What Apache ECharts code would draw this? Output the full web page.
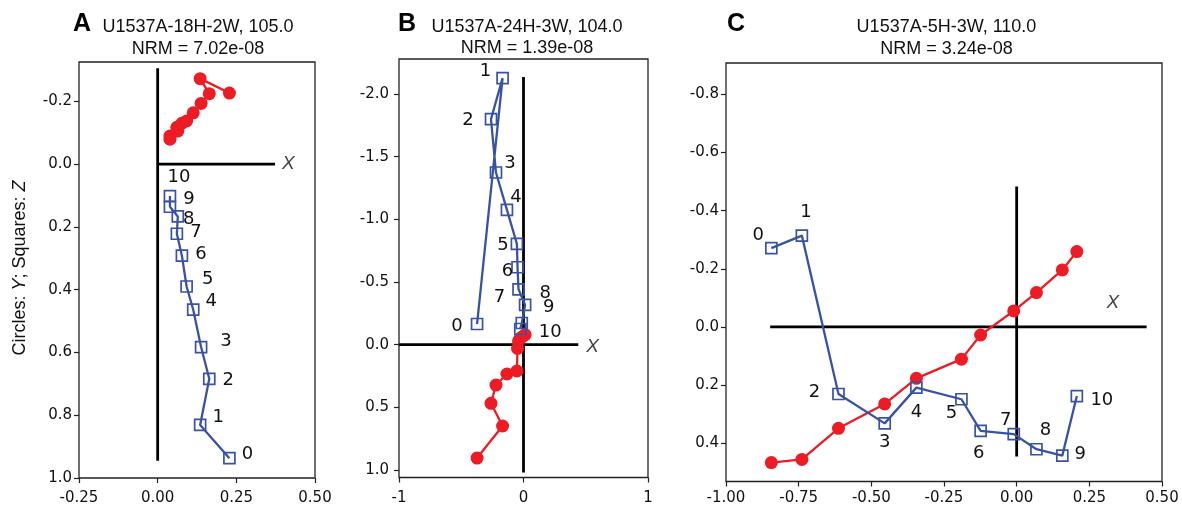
<!DOCTYPE html>
<html>
<head>
<meta charset="utf-8">
<script src="https://cdn.jsdelivr.net/npm/echarts@6/dist/echarts.min.js"></script>
<style>
html,body{margin:0;padding:0;background:#fff;}
#c{width:1182px;height:508px;}
</style>
</head>
<body>
<div id="c"></div>
<script>
// ---------- DATA ----------
const steps = [0,1,2,3,4,5,6,7,8,9,10];

// Panel A  U1537A-18H-2W, 105.0
const xA = [0.228, 0.135, 0.164, 0.138, 0.113, 0.092, 0.077, 0.061, 0.064, 0.039, 0.039];
const yA = [-0.226, -0.272, -0.224, -0.193, -0.163, -0.137, -0.130, -0.117, -0.105, -0.089, -0.079];
const zA = [0.937, 0.831, 0.684, 0.583, 0.464, 0.390, 0.292, 0.222, 0.167, 0.136, 0.102];
const crossHA = [[0, 0], [0.373, 0]];
const crossVA = [[0, -0.305], [0, 0.945]];

// Panel B  U1537A-24H-3W, 104.0
const xB = [-0.373, -0.168, -0.261, -0.221, -0.133, -0.053, -0.048, -0.040, 0.013, -0.014, -0.026];
const yB = [0.905, 0.649, 0.468, 0.322, 0.234, 0.210, 0.030, -0.030, -0.080, -0.060, -0.050];
const zB = [-0.165, -2.128, -1.800, -1.374, -1.076, -0.804, -0.618, -0.442, -0.317, -0.173, -0.125];
const crossHB = [[-1, 0], [0.44, 0]];
const crossVB = [[0, -2.136], [0, 1.02]];

// Panel C  U1537A-5H-3W, 110.0
const xC = [-0.844, -0.739, -0.613, -0.454, -0.345, -0.190, -0.124, -0.010, 0.068, 0.157, 0.207];
const yC = [0.467, 0.456, 0.349, 0.265, 0.177, 0.111, 0.028, -0.055, -0.118, -0.196, -0.259];
const zC = [-0.271, -0.314, 0.231, 0.332, 0.209, 0.249, 0.358, 0.369, 0.421, 0.443, 0.238];
const crossHC = [[-0.848, 0], [0.447, 0]];
const crossVC = [[0, -0.483], [0, 0.446]];

// titles
const titlesA = ['U1537A-18H-2W, 105.0', 'NRM = 7.02e-08'];
const titlesB = ['U1537A-24H-3W, 104.0', 'NRM = 1.39e-08'];
const titlesC = ['U1537A-5H-3W, 110.0', 'NRM = 3.24e-08'];
const panelLetters = ['A', 'B', 'C'];

// axis ranges & ticks
const xRangeA = [-0.25, 0.5], yRangeA = [-0.325, 1.0];
const xTicksA = [-0.25, 0, 0.25, 0.5], yTicksA = [-0.2, 0, 0.2, 0.4, 0.6, 0.8, 1.0];
const xRangeB = [-1, 1], yRangeB = [-2.28, 1.06];
const xTicksB = [-1, 0, 1], yTicksB = [-2.0, -1.5, -1.0, -0.5, 0, 0.5, 1.0];
const xRangeC = [-1, 0.5], yRangeC = [-0.908, 0.532];
const xTicksC = [-1, -0.75, -0.5, -0.25, 0, 0.25, 0.5], yTicksC = [-0.8, -0.6, -0.4, -0.2, 0, 0.2, 0.4];

// X-axis label anchors (data space)
const xLabelA = [0.415, 0], xLabelB = [0.555, 0.016], xLabelC = [0.331, -0.082];

// ---------- STYLE ----------
const RED = '#ED1C24', BLUE = '#3953A4', INK = '#111', FRAME = '#222';
const SANS = "'Liberation Sans', Arial, Helvetica, sans-serif";
const DV = "'DejaVu Sans', sans-serif";
const labelOffA = [[18,-4],[18,-8],[19,2],[25,-6],[18,-8],[21,-7],[19,-1],[19,-1],[11,3],[19,-7],[9,-19]];
const labelOffB = [[-20,2],[-17,-7],[-23,1],[14,-9],[9,-13],[-14,1],[-10,4],[-19,8],[20,-12],[27,-16],[30,3]];
const labelOffC = [[-13,-13],[4,-23],[-24,-2],[0,19],[0,25],[-10,14],[-2,22],[-8,-14],[9,-19],[18,-1],[25,4]];

const grids = [
  {left: 79, top: 62, width: 236, height: 416},
  {left: 399, top: 59, width: 249, height: 418.5},
  {left: 726, top: 63, width: 436, height: 418.5}
];

function fmt(v, d) { return (Math.abs(v) < 1e-9 ? 0 : v).toFixed(d); }

function xAxisCfg(gi, range, ticks, dec, margin) {
  return {
    type: 'value', gridIndex: gi, min: range[0], max: range[1],
    axisLine: {show: false, onZero: false},
    splitLine: {show: false},
    axisTick: {show: true, customValues: ticks, length: 5, lineStyle: {color: FRAME, width: 1.2}},
    axisLabel: {customValues: ticks, formatter: v => fmt(v, dec), color: INK, fontSize: 15, fontFamily: DV, margin: margin}
  };
}
function yAxisCfg(gi, range, ticks, dec, margin) {
  return {
    type: 'value', gridIndex: gi, min: range[0], max: range[1], inverse: true,
    axisLine: {show: false, onZero: false},
    splitLine: {show: false},
    axisTick: {show: true, customValues: ticks, length: 5, lineStyle: {color: FRAME, width: 1.2}},
    axisLabel: {customValues: ticks, formatter: v => fmt(v, dec), color: INK, fontSize: 15, fontFamily: DV, margin: margin}
  };
}

function zip(a, b) { return a.map((v, i) => [v, b[i]]); }

function panelSeries(gi, x, y, z, ch, cv, offs, xl) {
  const crossStyle = {color: '#000', width: 2.8};
  return [
    {type: 'line', xAxisIndex: gi, yAxisIndex: gi, data: ch, symbol: 'none', lineStyle: crossStyle, silent: true, z: 1, animation: false},
    {type: 'line', xAxisIndex: gi, yAxisIndex: gi, data: cv, symbol: 'none', lineStyle: crossStyle, silent: true, z: 1, animation: false},
    {type: 'line', xAxisIndex: gi, yAxisIndex: gi, data: zip(x, y), symbol: 'circle', symbolSize: 13, showAllSymbol: true,
      itemStyle: {color: RED}, lineStyle: {color: RED, width: 2.3}, z: 3, animation: false},
    {type: 'line', xAxisIndex: gi, yAxisIndex: gi, symbol: 'rect', symbolSize: 11, showAllSymbol: true,
      data: zip(x, z).map((p, i) => ({value: p, label: {offset: offs[i]}})),
      itemStyle: {color: 'rgba(0,0,0,0)', borderColor: BLUE, borderWidth: 1.7},
      lineStyle: {color: BLUE, width: 2.3}, z: 4, animation: false,
      label: {show: true, position: 'inside', formatter: p => String(steps[p.dataIndex]), color: INK, fontSize: 18, fontFamily: DV}},
    {type: 'scatter', xAxisIndex: gi, yAxisIndex: gi, data: [xl], symbolSize: 0, silent: true, z: 5, animation: false,
      label: {show: true, position: 'inside', formatter: 'X', color: INK, fontSize: 19, fontStyle: 'italic', fontFamily: SANS}}
  ];
}

function titleGraphics(cx, lines, y1, y2) {
  return [
    {type: 'text', x: cx, y: y1, style: {text: lines[0], fontSize: 18, fontFamily: SANS, fill: INK, align: 'center', verticalAlign: 'middle'}},
    {type: 'text', x: cx, y: y2, style: {text: lines[1], fontSize: 18, fontFamily: SANS, fill: INK, align: 'center', verticalAlign: 'middle'}}
  ];
}

const chart = echarts.init(document.getElementById('c'), null, {renderer: 'canvas'});
chart.setOption({
  animation: false,
  backgroundColor: '#fff',
  grid: grids.map(g => Object.assign({show: true, borderColor: FRAME, borderWidth: 1.3, backgroundColor: 'transparent', containLabel: false}, g)),
  xAxis: [
    xAxisCfg(0, xRangeA, xTicksA, 2, 13),
    xAxisCfg(1, xRangeB, xTicksB, 0, 13.5),
    xAxisCfg(2, xRangeC, xTicksC, 2, 9)
  ],
  yAxis: [
    yAxisCfg(0, yRangeA, yTicksA, 1, 7),
    yAxisCfg(1, yRangeB, yTicksB, 1, 10),
    yAxisCfg(2, yRangeC, yTicksC, 1, 7)
  ],
  series: [].concat(
    panelSeries(0, xA, yA, zA, crossHA, crossVA, labelOffA, xLabelA),
    panelSeries(1, xB, yB, zB, crossHB, crossVB, labelOffB, xLabelB),
    panelSeries(2, xC, yC, zC, crossHC, crossVC, labelOffC, xLabelC)
  ),
  graphic: [].concat(
    [
      {type: 'text', x: 82, y: 24, style: {text: panelLetters[0], fontSize: 25, fontWeight: 'bold', fontFamily: SANS, fill: '#000', align: 'center', verticalAlign: 'middle'}},
      {type: 'text', x: 407, y: 24, style: {text: panelLetters[1], fontSize: 25, fontWeight: 'bold', fontFamily: SANS, fill: '#000', align: 'center', verticalAlign: 'middle'}},
      {type: 'text', x: 736, y: 24, style: {text: panelLetters[2], fontSize: 25, fontWeight: 'bold', fontFamily: SANS, fill: '#000', align: 'center', verticalAlign: 'middle'}},
      {type: 'text', x: 20, y: 268, rotation: Math.PI / 2,
        style: {text: '{a|Circles: }{i|Y}{a|; Squares: }{i|Z}', align: 'center', verticalAlign: 'middle', fill: INK,
          rich: {a: {fontSize: 18, fontFamily: SANS, fill: INK}, i: {fontSize: 18, fontFamily: SANS, fontStyle: 'italic', fill: INK}}}}
    ],
    titleGraphics(198, titlesA, 27.5, 49),
    titleGraphics(527, titlesB, 27, 48),
    titleGraphics(946.5, titlesC, 27, 49.5)
  )
});
</script>
</body>
</html>
